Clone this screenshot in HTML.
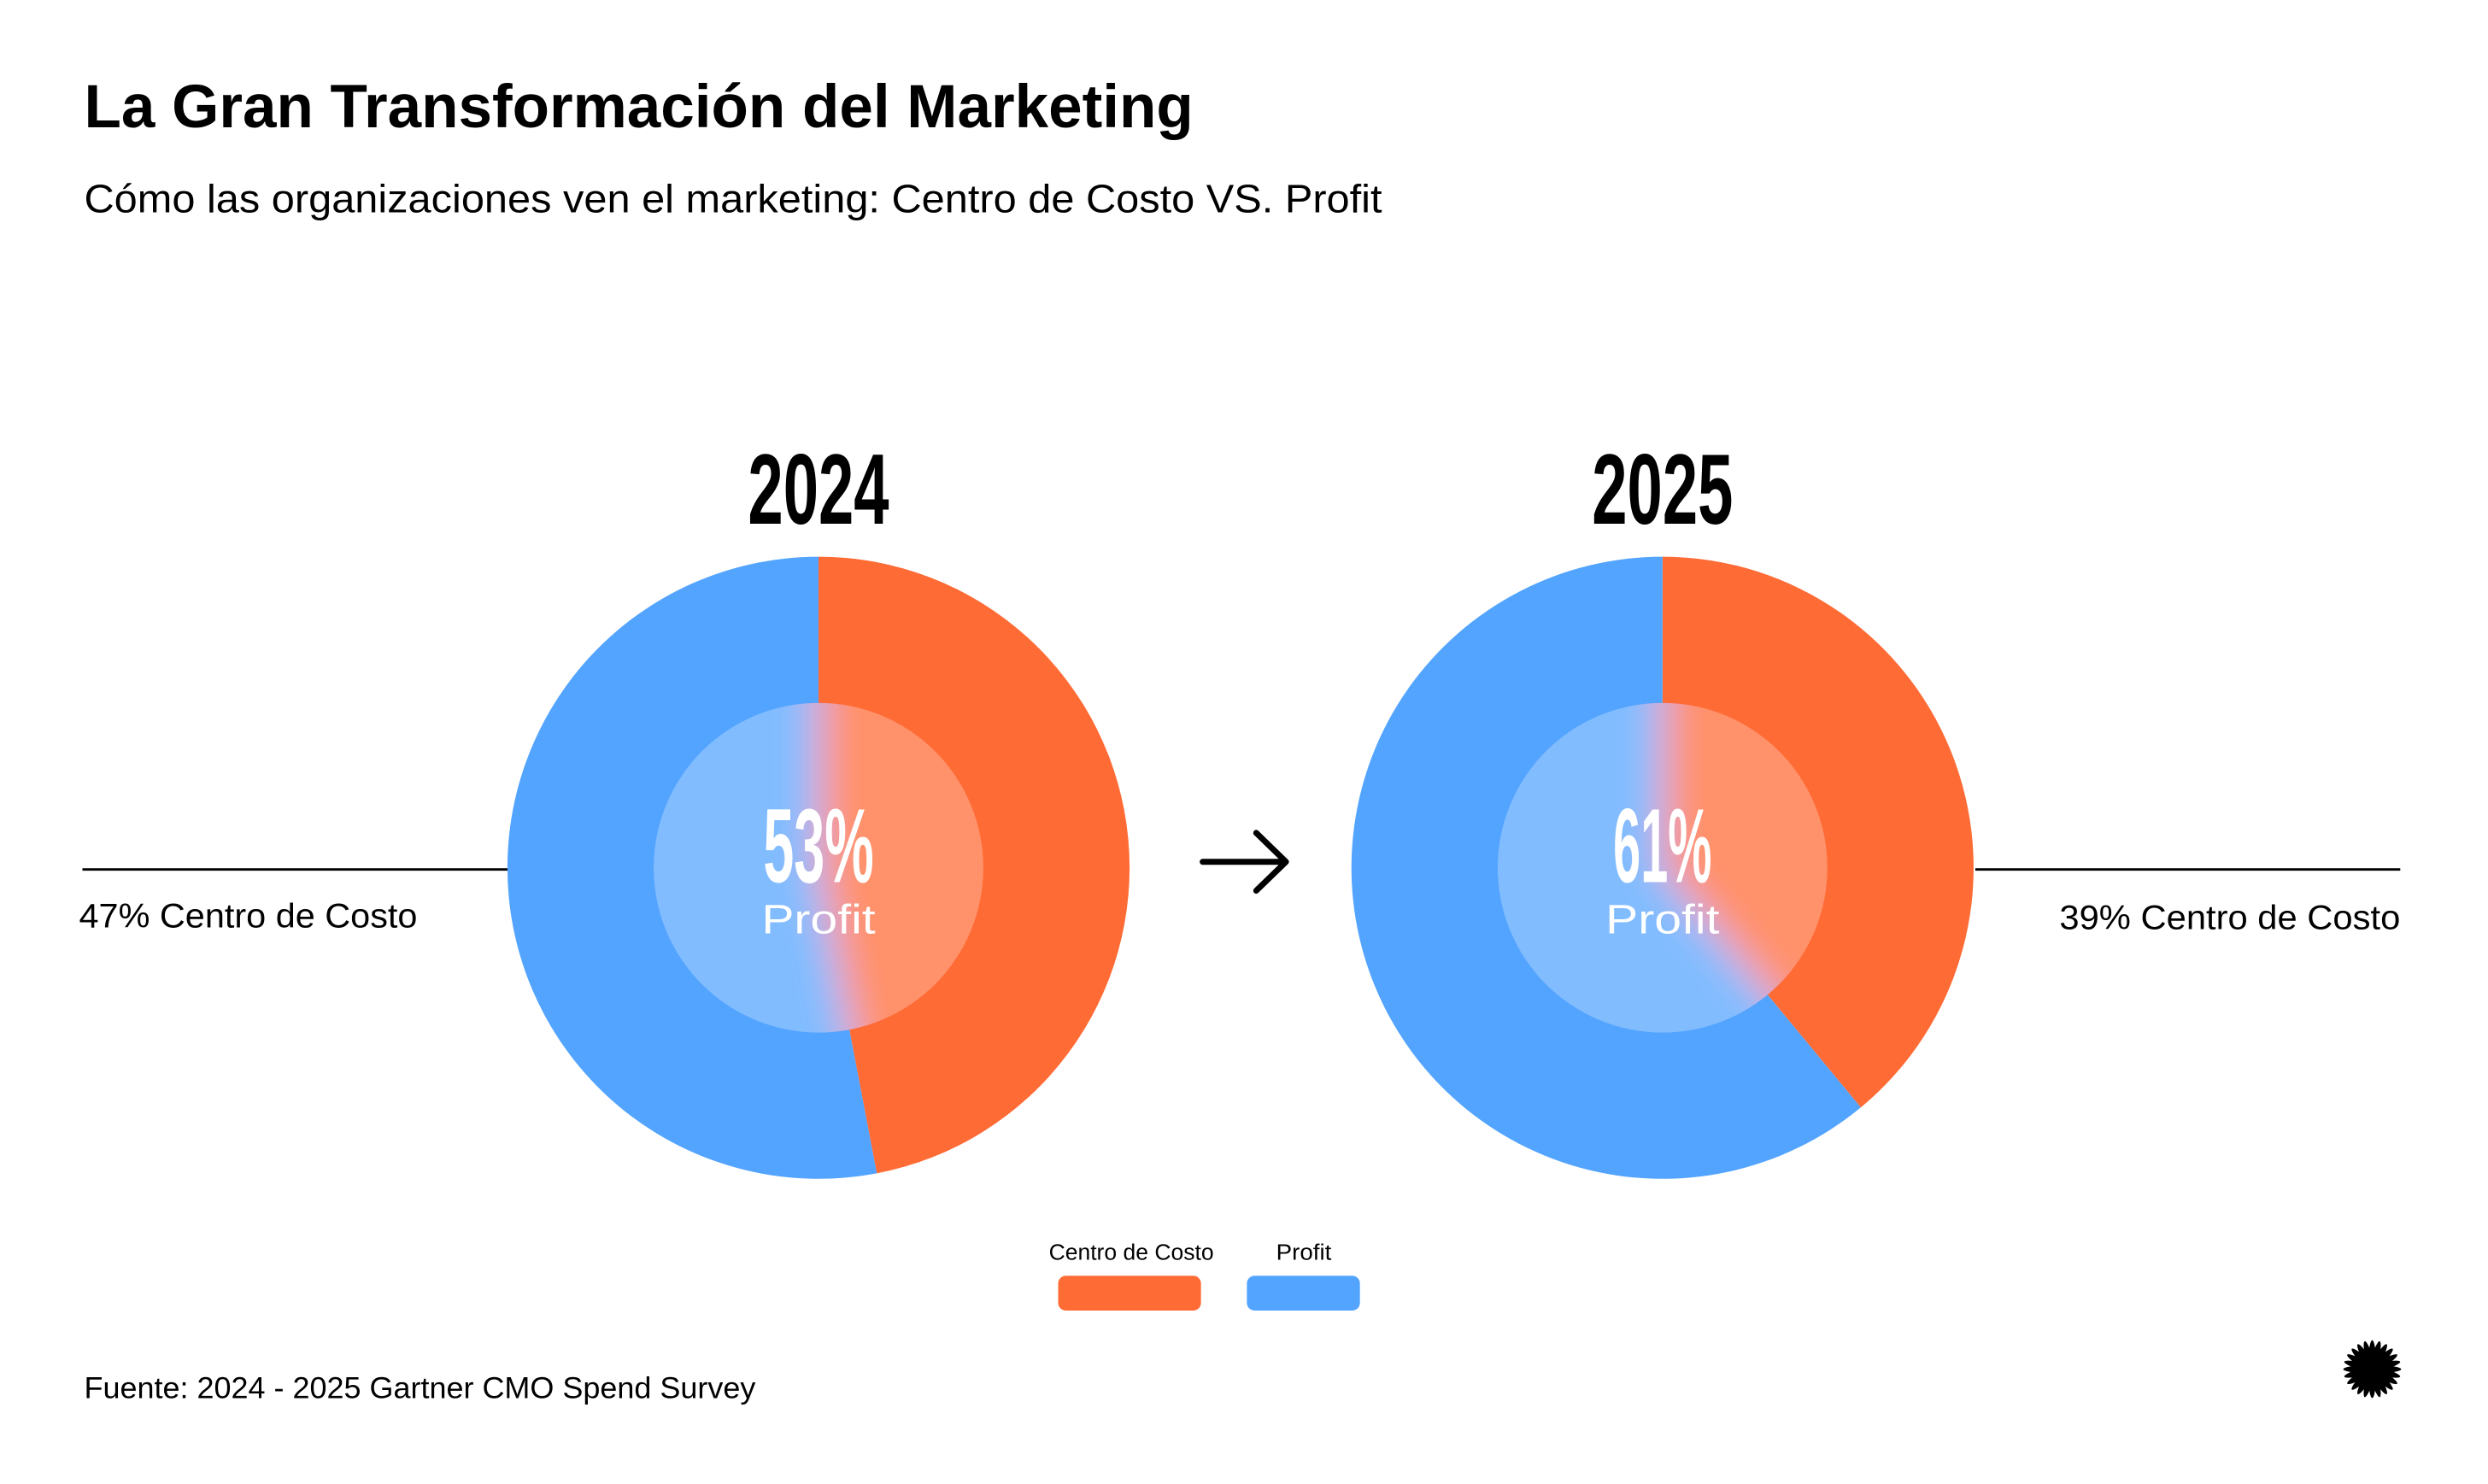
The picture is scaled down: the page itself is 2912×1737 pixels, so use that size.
<!DOCTYPE html>
<html><head><meta charset="utf-8"><style>
html,body{margin:0;padding:0;background:#fff;}
svg{display:block;font-family:"Liberation Sans",sans-serif;}
</style></head><body>
<svg id="chart" width="2912" height="1737" viewBox="0 0 2912 1737">
<defs>
<filter id="blur" x="-20%" y="-20%" width="140%" height="140%"><feGaussianBlur stdDeviation="22"/></filter>
<clipPath id="clip0"><circle cx="963" cy="1021" r="194"/></clipPath>
<clipPath id="clip1"><circle cx="1956" cy="1021" r="194"/></clipPath>
</defs>
<g transform="scale(0.9948)">
<text x="99" y="150" font-size="72" font-weight="bold" textLength="1305" lengthAdjust="spacingAndGlyphs">La Gran Transformación del Marketing</text>
<text x="99" y="250" font-size="47" textLength="1527" lengthAdjust="spacingAndGlyphs">Cómo las organizaciones ven el marketing: Centro de Costo VS. Profit</text>
<line x1="97" y1="1023" x2="601" y2="1023" stroke="#000" stroke-width="3"/>
<line x1="2324" y1="1023" x2="2824" y2="1023" stroke="#000" stroke-width="3"/>
<text x="93" y="1091" font-size="40" textLength="398" lengthAdjust="spacingAndGlyphs">47% Centro de Costo</text>
<text x="2824" y="1093" font-size="40" text-anchor="end" textLength="401" lengthAdjust="spacingAndGlyphs">39% Centro de Costo</text>
<g stroke="#000" stroke-width="7" fill="none" stroke-linecap="round" stroke-linejoin="round">
<line x1="1415" y1="1014" x2="1512" y2="1014"/><polyline points="1478,980 1513,1014 1478,1048"/>
</g>
<g id="pies"></g>
<text x="1331" y="1482" font-size="26" text-anchor="middle" textLength="194" lengthAdjust="spacingAndGlyphs">Centro de Costo</text>
<text x="1534" y="1482" font-size="26" text-anchor="middle" textLength="65" lengthAdjust="spacingAndGlyphs">Profit</text>
<rect x="1245" y="1501" width="168" height="41" rx="9" fill="#FF6B35"/>
<rect x="1467" y="1501" width="133" height="41" rx="9" fill="#53A4FF"/>
<text x="99" y="1645" font-size="35" textLength="790" lengthAdjust="spacingAndGlyphs">Fuente: 2024 - 2025 Gartner CMO Spend Survey</text>
<g id="logo"></g>
</g>
</svg>
<script>
const years = ["2024", "2025"];
const costValues = [47, 39];
const profitValues = [53, 61];
const profitLabels = ["53%", "61%"];

const NS = "http://www.w3.org/2000/svg";
const centersX = [963, 1956];
const cy = 1021, R = 366, r = 194;
const pies = document.getElementById("pies");
function mk(tag, attrs, parent){const e=document.createElementNS(NS,tag);for(const k in attrs)e.setAttribute(k,attrs[k]);parent.appendChild(e);return e;}
function pt(cx,a,rad){return [cx+rad*Math.sin(a), cy-rad*Math.cos(a)];}
function slicePath(cx,a0,a1){const p0=pt(cx,a0,R),p1=pt(cx,a1,R);const large=(a1-a0)>Math.PI?1:0;
  return `M${cx},${cy} L${p0[0]},${p0[1]} A${R},${R} 0 ${large} 1 ${p1[0]},${p1[1]} Z`;}
years.forEach((y,i)=>{
  const cx=centersX[i];
  const total=costValues[i]+profitValues[i];
  const aCost=costValues[i]/total*2*Math.PI;
  const g=mk("g",{},pies);
  
  
  const c=mk("path",{d:slicePath(cx,0,aCost),fill:"#FF6B35"},g);
  
  
  const p=mk("path",{d:slicePath(cx,aCost,2*Math.PI),fill:"#53A4FF"},g);
  
  
  const inner=mk("g",{"clip-path":`url(#clip${i})`},g);
  
  
  const bg=mk("g",{filter:"url(#blur)"},inner);
  mk("path",{d:slicePath(cx,0,aCost),fill:"#FF6B35"},bg);
  mk("path",{d:slicePath(cx,aCost,2*Math.PI),fill:"#53A4FF"},bg);
  mk("circle",{cx:cx,cy:cy,r:r,fill:"#fff","fill-opacity":"0.27"},inner);
  const yt=mk("text",{x:cx,y:616,"font-size":118,"font-weight":"bold","text-anchor":"middle",textLength:166,lengthAdjust:"spacingAndGlyphs"},g);
  yt.textContent=y;
  
  
  const v=mk("text",{x:cx,y:1038,"font-size":124,"font-weight":"bold","text-anchor":"middle",fill:"#fff",textLength:(i==0?130:116),lengthAdjust:"spacingAndGlyphs"},g);
  v.textContent=profitLabels[i];
  
  
  const l=mk("text",{x:cx,y:1098,"font-size":48,"text-anchor":"middle",fill:"#fff",textLength:134,lengthAdjust:"spacingAndGlyphs"},g);
  l.textContent="Profit";
  
  
});
// logo asterisk
const logo=document.getElementById("logo");
for(let k=0;k<12;k++){
  mk("ellipse",{cx:2791,cy:1611,rx:5,ry:34,fill:"#000",transform:`rotate(${k*15} 2791 1611)`},logo);
}
mk("circle",{cx:2791,cy:1611,r:12,fill:"#000"},logo);
</script>
</body></html>
